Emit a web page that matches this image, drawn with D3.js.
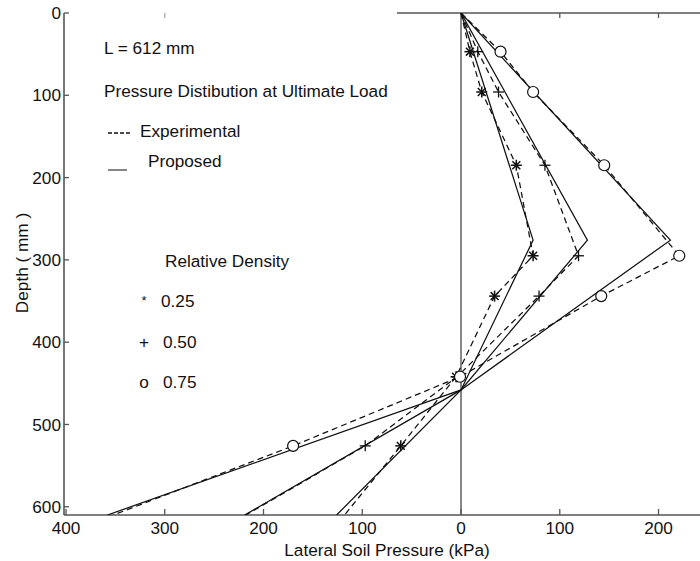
<!DOCTYPE html>
<html>
<head>
<meta charset="utf-8">
<script src="https://cdn.jsdelivr.net/npm/d3@7"></script>
<style>
  html, body { margin: 0; padding: 0; background: #fff; }
  svg { display: block; font-family: "Liberation Sans", Arial, Helvetica, sans-serif; }
</style>
</head>
<body>
<svg id="chart" width="700" height="561"></svg>
<script>
// Measured depths (mm) for the experimental profiles
const expDepths = [0, 47, 96, 185, 295, 344, 442, 526, 610];
// Lateral soil pressure (kPa), positive = in front of the pile
const exp025 = [0, 9, 21, 56, 73, 34, -5, -61, -118];
const exp050 = [0, 17, 38, 85, 119, 79, -4, -97, -218];
const exp075 = [0, 40, 73, 145, 221, 142, -1, -170, -352];

// Proposed (theoretical) profiles: surface, peak, zero point, pile tip
const propDepths = [0, 276, 458, 610];
const prop025 = [0, 73, 0, -126];
const prop050 = [0, 128, 0, -219];
const prop075 = [0, 212, 0, -358];

const densities = ["0.25", "0.50", "0.75"];
const markerTypes = ["star", "plus", "circle"];

const depthTicks = [0, 100, 200, 300, 400, 500, 600];
const pressureTicks = [-400, -300, -200, -100, 0, 100, 200];

const svg = d3.select("#chart");
const x = d3.scaleLinear().domain([-400, 242]).range([66, 700]);
const y = d3.scaleLinear().domain([0, 610]).range([13, 515]);
const plotLeft = 64, plotRight = 700, plotTop = 13, plotBottom = 515;
const ink = "#111";
const axisInk = "#555";
const fs = 17.2;

svg.append("defs").append("clipPath").attr("id", "plotClip")
  .append("rect").attr("x", plotLeft).attr("y", plotTop)
  .attr("width", plotRight - plotLeft).attr("height", plotBottom - plotTop);

// Frame
svg.append("line").attr("x1", plotLeft).attr("x2", plotLeft).attr("y1", plotTop).attr("y2", plotBottom)
  .attr("stroke", axisInk).attr("stroke-width", 1.6);
svg.append("line").attr("x1", plotLeft).attr("x2", plotRight).attr("y1", plotBottom).attr("y2", plotBottom)
  .attr("stroke", axisInk).attr("stroke-width", 1.6);
svg.append("line").attr("x1", 397).attr("x2", plotRight).attr("y1", plotTop).attr("y2", plotTop)
  .attr("stroke", axisInk).attr("stroke-width", 1.6);
// Pile line at zero pressure
svg.append("line").attr("x1", x(0)).attr("x2", x(0)).attr("y1", plotTop).attr("y2", plotBottom)
  .attr("stroke", axisInk).attr("stroke-width", 1.4);

// Depth axis (ticks pointing inward)
const yAxis = svg.append("g");
depthTicks.forEach(d => {
  yAxis.append("line").attr("x1", plotLeft).attr("x2", plotLeft + 5).attr("y1", y(d)).attr("y2", y(d))
    .attr("stroke", axisInk).attr("stroke-width", 1.3);
  yAxis.append("text").attr("x", 61).attr("y", y(d)).attr("dy", "0.36em")
    .attr("text-anchor", "end").attr("font-size", fs).attr("fill", ink).text(d);
});

// Pressure axis (ticks pointing inward), labels show magnitude
const xAxis = svg.append("g");
pressureTicks.forEach(p => {
  xAxis.append("line").attr("x1", x(p)).attr("x2", x(p)).attr("y1", plotBottom).attr("y2", plotBottom - 6)
    .attr("stroke", axisInk).attr("stroke-width", 1.3);
  xAxis.append("text").attr("x", x(p)).attr("y", 533.5).attr("text-anchor", "middle")
    .attr("font-size", fs).attr("fill", ink).text(Math.abs(p));
});
[-300, 100, 200].forEach(p => {
  xAxis.append("line").attr("x1", x(p)).attr("x2", x(p)).attr("y1", plotTop).attr("y2", plotTop + 5)
    .attr("stroke", axisInk).attr("stroke-width", 1.3).attr("opacity", p < 0 ? 0.5 : 1);
});

svg.append("text").attr("transform", "translate(28,263) rotate(-90)")
  .attr("text-anchor", "middle").attr("font-size", fs).attr("fill", ink).text("Depth ( mm )");
svg.append("text").attr("x", 387).attr("y", 555.5).attr("text-anchor", "middle")
  .attr("font-size", fs).attr("fill", ink).text("Lateral Soil Pressure (kPa)");

// Profiles
const plot = svg.append("g").attr("clip-path", "url(#plotClip)");
const line = d3.line().x(d => x(d[0])).y(d => y(d[1]));

[prop025, prop050, prop075].forEach(vals => {
  plot.append("path").datum(vals.map((v, i) => [v, propDepths[i]]))
    .attr("d", line).attr("fill", "none").attr("stroke", ink).attr("stroke-width", 1.25);
});
[exp025, exp050, exp075].forEach(vals => {
  plot.append("path").datum(vals.map((v, i) => [v, expDepths[i]]))
    .attr("d", line).attr("fill", "none").attr("stroke", ink).attr("stroke-width", 1.25)
    .attr("stroke-dasharray", "6,4");
});

function drawMarker(g, type, cx, cy, r) {
  if (type === "circle") {
    g.append("circle").attr("cx", cx).attr("cy", cy).attr("r", r)
      .attr("fill", "#fff").attr("stroke", ink).attr("stroke-width", 1.2);
  } else {
    const segs = type === "plus"
      ? [[r, 0], [0, r]]
      : [[r, 0], [0, r], [r * 0.72, r * 0.72], [r * 0.72, -r * 0.72]];
    segs.forEach(([dx, dy]) => {
      g.append("line").attr("x1", cx - dx).attr("y1", cy - dy).attr("x2", cx + dx).attr("y2", cy + dy)
        .attr("stroke", ink).attr("stroke-width", type === "plus" ? 1.3 : 1.5);
    });
  }
}

[exp025, exp050, exp075].forEach((vals, s) => {
  vals.forEach((v, i) => {
    if (i === 0 || i === vals.length - 1) return;
    drawMarker(plot, markerTypes[s], x(v), y(expDepths[i]), 5.5);
  });
});

// Legend and annotations
const ann = svg.append("g").attr("font-size", fs).attr("fill", ink);
ann.append("text").attr("x", 104).attr("y", 54).text("L = 612 mm");
ann.append("text").attr("x", 104).attr("y", 97).text("Pressure Distibution at Ultimate Load");
ann.append("line").attr("x1", 108).attr("x2", 130).attr("y1", 133).attr("y2", 133)
  .attr("stroke", ink).attr("stroke-width", 1.3).attr("stroke-dasharray", "4,2");
ann.append("text").attr("x", 140).attr("y", 137).text("Experimental");
ann.append("line").attr("x1", 108).attr("x2", 127).attr("y1", 170).attr("y2", 170)
  .attr("stroke", "#444").attr("stroke-width", 1.3);
ann.append("text").attr("x", 148).attr("y", 167).text("Proposed");
ann.append("text").attr("x", 165).attr("y", 267).text("Relative Density");
const legendMarks = ["*", "+", "o"];
const legendY = [307, 348, 388];
densities.forEach((d, i) => {
  ann.append("text").attr("x", 144).attr("y", legendY[i] - (i === 0 ? 2 : 0))
    .attr("font-size", i === 0 ? 13 : fs)
    .attr("text-anchor", "middle").text(legendMarks[i]);
  ann.append("text").attr("x", i === 0 ? 161 : 163).attr("y", legendY[i]).text(d);
});
</script>
</body>
</html>
